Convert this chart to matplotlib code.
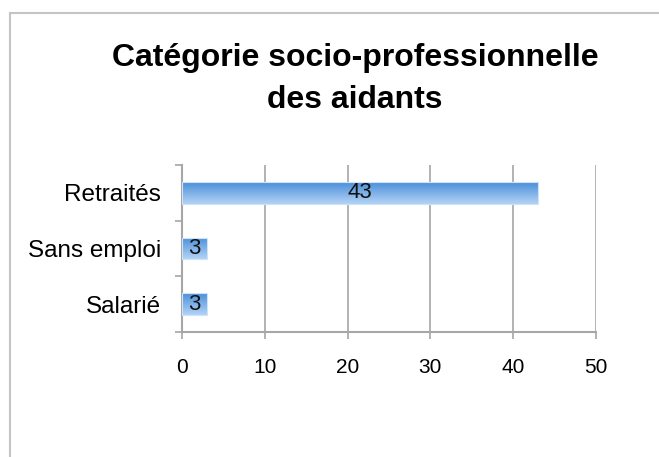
import matplotlib
matplotlib.use("Agg")
import matplotlib.pyplot as plt
import numpy as np
from matplotlib.lines import Line2D
from matplotlib.colors import LinearSegmentedColormap

categories = ["Salarié", "Sans emploi", "Retraités"]
values = [3, 3, 43]
xticks = [0, 10, 20, 30, 40, 50]
title = "Catégorie socio-professionnelle\ndes aidants"

plt.rcParams['font.family'] = ['Liberation Sans', 'DejaVu Sans']

W, H = 659, 457
fig = plt.figure(figsize=(W / 100, H / 100), dpi=100)
fig.patch.set_facecolor("white")

# outer frame (top + left)
frame_c = "#c4c4c4"
fig.add_artist(Line2D([10 / W, 1.0], [1 - 13 / H, 1 - 13 / H], color=frame_c, lw=1.5, transform=fig.transFigure))
fig.add_artist(Line2D([10 / W, 10 / W], [0, 1 - 13 / H], color=frame_c, lw=1.5, transform=fig.transFigure))

left, right, top, bottom = 182, 596, 165, 332
ax = fig.add_axes([left / W, 1 - bottom / H, (right - left) / W, (bottom - top) / H])
ax.set_facecolor("none")

y = np.arange(len(categories))
bars = ax.barh(y, values, height=0.39, color="none", edgecolor="#cfe3f8", linewidth=0.8, zorder=3)

grad = np.linspace(0, 1, 64).reshape(-1, 1)
cmap = LinearSegmentedColormap.from_list("g", ["#b3d3f6", "#4b8fd9"])
for b, v in zip(bars, values):
    x0, y0, w, h = b.get_x(), b.get_y(), b.get_width(), b.get_height()
    im = ax.imshow(grad, extent=[x0, x0 + w, y0, y0 + h], origin="lower", aspect="auto", cmap=cmap, zorder=2)
    im.set_clip_path(b)
    ax.text(x0 + w / 2, y0 + h / 2, str(v), ha="center", va="center", fontsize=16, color="#111111", zorder=4)

ax.set_xlim(0, 50)
ax.set_ylim(-0.5, len(categories) - 0.5)

gc = "#a6a6a6"
ax.set_xticks(xticks)
ax.set_xticklabels([str(t) for t in xticks], fontsize=15)
ax.xaxis.grid(True, color=gc, lw=1.2, zorder=0)
ax.set_axisbelow(True)

ax.set_yticks(np.arange(-0.5, len(categories), 1.0))
ax.set_yticklabels([])
ax.set_yticks(y, minor=True)
ax.set_yticklabels(categories, minor=True, fontsize=17.5)
ax.tick_params(axis="y", which="minor", length=0, pad=15)
ax.tick_params(axis="y", which="major", length=5, width=1.2, color=gc, direction="out")
ax.tick_params(axis="x", length=5, width=1.2, color=gc, direction="out", pad=14)

for s in ["top", "right"]:
    ax.spines[s].set_visible(False)
for s in ["left", "bottom"]:
    ax.spines[s].set_color(gc)
    ax.spines[s].set_linewidth(1.5)

fig.text(355 / W, 1 - 79 / H, title, ha="center", va="center", fontsize=23, fontweight="bold", linespacing=1.5)

fig.savefig("out.png", dpi=100, facecolor="white")
